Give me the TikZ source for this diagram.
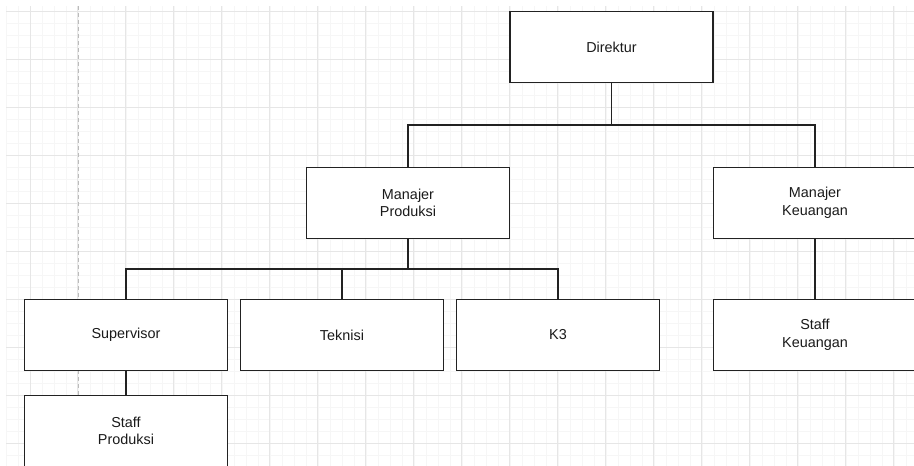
\documentclass[tikz,border=0pt]{standalone}
\usepackage{fontspec}
\setmainfont{Liberation Sans}
\definecolor{minorgrid}{HTML}{F6F6F6}
\definecolor{majorgrid}{HTML}{E6E6E6}
\definecolor{dashgray}{HTML}{BBBBBB}
\definecolor{boxline}{HTML}{222222}
\definecolor{txt}{HTML}{1A1A1A}
\begin{document}
\begin{tikzpicture}[x=1pt,y=-1pt,
  orgbox/.style={draw=boxline,line width=1.5pt,fill=white,minimum width=203pt,minimum height=71pt,
    inner sep=0pt,align=center,text=txt,font=\fontsize{14.4}{17.6}\selectfont},
  conn/.style={draw=boxline,line width=1.5pt}]
\useasboundingbox (0,0) rectangle (914,466);
\fill[white] (0,0) rectangle (914,466);
% grid
\begin{scope}
\clip (6,6) rectangle (914,466);
\foreach \i in {0,...,76} \draw[minorgrid,line width=1pt] (6+12*\i,6) -- (6+12*\i,466);
\foreach \i in {0,...,38} \draw[minorgrid,line width=1pt] (6,11+12*\i) -- (914,11+12*\i);
\foreach \i in {0,...,18} \draw[majorgrid,line width=1pt] (30+47.95*\i,6) -- (30+47.95*\i,466);
\foreach \i in {0,...,9} \draw[majorgrid,line width=1pt] (6,11+48*\i) -- (914,11+48*\i);
\draw[dashgray,line width=1pt,dash pattern=on 4pt off 3pt] (78,6) -- (78,466);
\end{scope}
% nodes
\node[orgbox] (dir) at (611.5,47) {Direktur};
\node[orgbox] (mp) at (408,203) {Manajer\\Produksi};
\node[orgbox] (mk) at (815,203) {Manajer\\Keuangan};
\node[orgbox] (sup) at (126,335) {Supervisor};
\node[orgbox] (tek) at (342,335) {Teknisi};
\node[orgbox] (k3) at (558,335) {K3};
\node[orgbox] (sk) at (815,335) {Staff\\Keuangan};
\node[orgbox] (sp) at (126,431) {Staff\\Produksi};
% connectors
\coordinate (j1) at (611.5,125);
\coordinate (j2) at (408,269);
\draw[conn] (dir.south) -- (j1);
\draw[conn] (mp.north) |- (j1) -| (mk.north);
\draw[conn] (mp.south) -- (j2);
\draw[conn] (sup.north) |- (j2) -| (k3.north);
\draw[conn] (tek.north) -- (tek.north |- j2);
\draw[conn] (sup.south) -- (sp.north);
\draw[conn] (mk.south) -- (sk.north);
\end{tikzpicture}
\end{document}
